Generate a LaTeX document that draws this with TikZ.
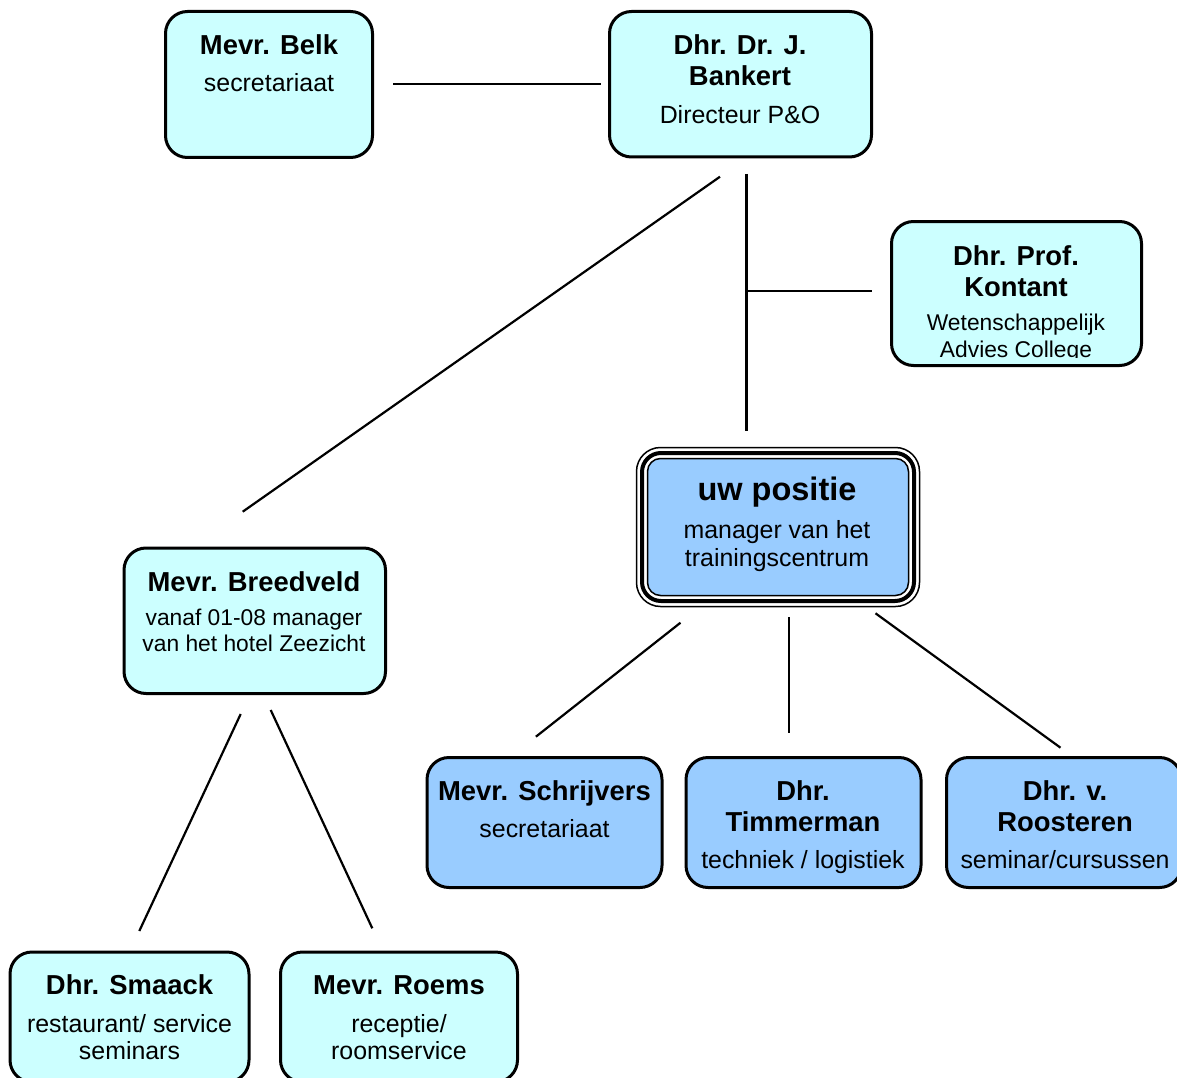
\documentclass[tikz,border=0pt]{standalone}
\usepackage{fontspec}
\setmainfont{Liberation Sans}
\definecolor{cyanbox}{HTML}{CCFFFF}
\definecolor{bluebox}{HTML}{99CCFF}
\begin{document}
\begin{tikzpicture}[x=1pt,y=-1pt,
  box/.style={draw=black, line width=3pt, rounded corners=22pt, fill=cyanbox, inner sep=0pt},
  bluebx/.style={box, fill=bluebox},
  ttl/.style={font=\fontsize{27.4}{32}\bfseries\selectfont, anchor=base, inner sep=0pt},
  bigttl/.style={font=\fontsize{32.5}{38}\bfseries\selectfont, anchor=base, inner sep=0pt},
  sub/.style={font=\fontsize{24.9}{28}\selectfont, anchor=base, inner sep=0pt},
  subs/.style={font=\fontsize{22.8}{26}\selectfont, anchor=base, inner sep=0pt},
  conn/.style={line width=2.2pt}]
\useasboundingbox (0,0) rectangle (1177,1078);

% boxes
\node[box, minimum width=207pt, minimum height=146pt] (belk) at (269,84.5) {};
\node[box, minimum width=262pt, minimum height=145.5pt] (bankert) at (740.5,84.25) {};
\node[box, minimum width=250pt, minimum height=144pt] (kontant) at (1016.5,293.5) {};
\node[box, minimum width=261.5pt, minimum height=145.5pt] (breedveld) at (254.75,620.75) {};
\node[bluebx, minimum width=235pt, minimum height=130pt] (schrijvers) at (544.5,822.5) {};
\node[bluebx, minimum width=235pt, minimum height=130pt] (timmerman) at (803.5,822.5) {};
\node[bluebx, minimum width=235pt, minimum height=130pt] (roosteren) at (1064,822.5) {};
\node[box, minimum width=239pt, minimum height=130pt] (smaack) at (129.5,1017) {};
\node[box, minimum width=237pt, minimum height=130pt] (roems) at (399,1017) {};

% uw positie: triple frame
\node[draw=black, line width=1.5pt, rounded corners=24pt, fill=white, inner sep=0pt,
      minimum width=283pt, minimum height=159pt] (uw) at (778,527) {};
\node[draw=black, line width=4pt, rounded corners=19pt, inner sep=0pt,
      minimum width=272pt, minimum height=148pt] (uwmid) at (778,527) {};
\node[draw=black, line width=1.5pt, rounded corners=13pt, fill=bluebox, inner sep=0pt,
      minimum width=261pt, minimum height=137pt] (uwin) at (778,527) {};

% texts
\node[ttl] (belk1) at (269,55) {Mevr. Belk};
\node[sub] (belk2) at (269,92) {secretariaat};

\node[ttl] (bank1) at (740,55) {Dhr. Dr. J.};
\node[ttl] (bank2) at (740,86) {Bankert};
\node[sub] (bank3) at (740,123.5) {Directeur P\&O};

\node[ttl] (kont1) at (1016,265) {Dhr. Prof.};
\node[ttl] (kont2) at (1016,296) {Kontant};
\node[subs] (kont3) at (1016,330.5) {Wetenschappelijk};
\begin{scope}
  \clip (880,335) rectangle (1150,357.5);
  \node[subs] (kont4) at (1016,357) {Advies College};
\end{scope}

\node[bigttl] (uw1) at (777,500) {uw positie};
\node[sub] (uw2) at (777,538.3) {manager van het};
\node[sub] (uw3) at (777,566.7) {trainingscentrum};

\node[ttl] (bree1) at (254,591.7) {Mevr. Breedveld};
\node[subs] (bree2) at (254,625) {vanaf 01-08 manager};
\node[subs] (bree3) at (254,651.7) {van het hotel Zeezicht};

\node[ttl] (schr1) at (544.5,800) {Mevr. Schrijvers};
\node[sub] (schr2) at (544.5,837) {secretariaat};

\node[ttl] (timm1) at (803,800) {Dhr.};
\node[ttl] (timm2) at (803,831.7) {Timmerman};
\node[sub] (timm3) at (803,868.3) {techniek / logistiek};

\node[ttl] (roos1) at (1065,800) {Dhr. v.};
\node[ttl] (roos2) at (1065,831.7) {Roosteren};
\node[sub] (roos3) at (1065,868.3) {seminar/cursussen};

\node[ttl] (smaa1) at (129.5,994.5) {Dhr. Smaack};
\node[sub] (smaa2) at (129.5,1032) {restaurant/ service};
\node[sub] (smaa3) at (129.5,1059) {seminars};

\node[ttl] (roem1) at (399,994.5) {Mevr. Roems};
\node[sub] (roem2) at (399,1032) {receptie/};
\node[sub] (roem3) at (399,1059) {roomservice};

% connector end points
\coordinate (c1a) at (393,84.3);     \coordinate (c1b) at (600.7,84.3);
\coordinate (c2a) at (720,176.7);    \coordinate (c2b) at (242.7,511.7);
\coordinate (c3a) at (746.5,174);    \coordinate (c3b) at (746.5,430.7);
\coordinate (c4a) at (746.5,290.7);  \coordinate (c4b) at (871.7,290.7);
\coordinate (c5a) at (680.5,622.7);  \coordinate (c5b) at (535.9,736.7);
\coordinate (c6a) at (788.6,617.3);  \coordinate (c6b) at (788.6,733.3);
\coordinate (c7a) at (875.5,613.3);  \coordinate (c7b) at (1060.5,747.7);
\coordinate (c8a) at (240.7,714);    \coordinate (c8b) at (139.3,931);
\coordinate (c9a) at (270.7,710);    \coordinate (c9b) at (372.3,928.3);

\draw[conn] (c1a) -- (c1b);
\draw[conn] (c2a) -- (c2b);
\draw[conn] (c3a) -- (c3b);
\draw[conn] (c4a) -- (c4b);
\draw[conn] (c5a) -- (c5b);
\draw[conn] (c6a) -- (c6b);
\draw[conn] (c7a) -- (c7b);
\draw[conn] (c8a) -- (c8b);
\draw[conn] (c9a) -- (c9b);
\end{tikzpicture}
\end{document}
